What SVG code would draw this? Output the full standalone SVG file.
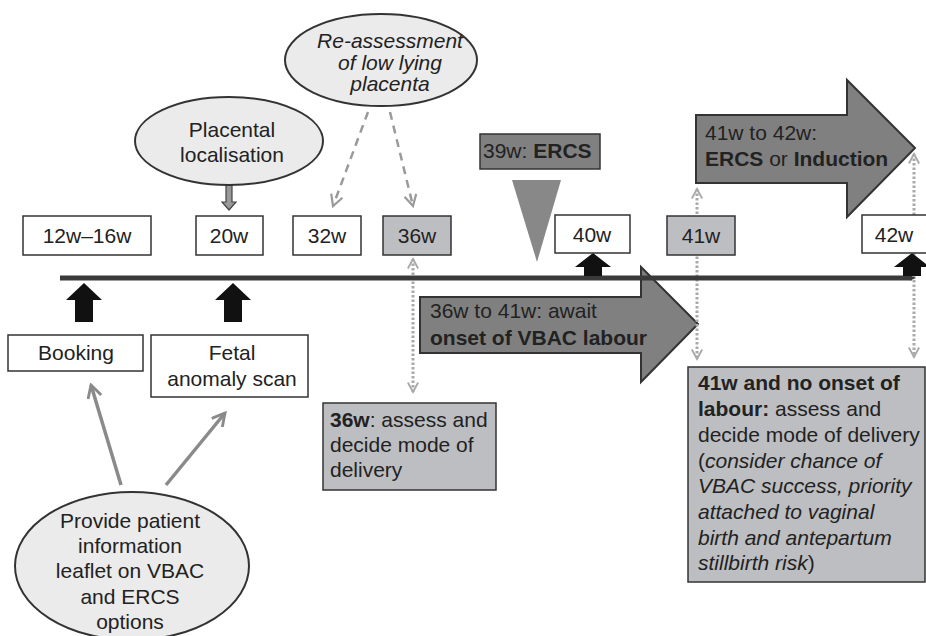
<svg xmlns="http://www.w3.org/2000/svg" width="926" height="636" viewBox="0 0 926 636">
<defs>
<style>
text{font-family:"Liberation Sans",Arial,sans-serif;font-size:21px;fill:#222}
.c{text-anchor:middle}
.b{font-weight:bold}
.i{font-style:italic}
.box{fill:#fff;stroke:#333;stroke-width:1.5}
.gbox{fill:#bdbec1;stroke:#333;stroke-width:1.5}
.ell{fill:#ebebeb;stroke:#333;stroke-width:2}
.big{fill:#808080;stroke:#333;stroke-width:2}
.blk{fill:#111}
.solid{fill:none;stroke:#8a8a8a;stroke-width:3.5}
.dash{fill:none;stroke:#9a9a9a;stroke-width:2.5;stroke-dasharray:8,6}
.dot{fill:none;stroke:#aaa;stroke-width:3;stroke-dasharray:2.5,2}
</style>
<marker id="ms" viewBox="0 0 14 14" refX="12" refY="7" markerWidth="16" markerHeight="16" markerUnits="userSpaceOnUse" orient="auto">
<path d="M1,1 L12,7 L1,13" fill="none" stroke="#8a8a8a" stroke-width="2.5"/>
</marker>
<marker id="md" viewBox="0 0 14 14" refX="12" refY="7" markerWidth="14" markerHeight="14" markerUnits="userSpaceOnUse" orient="auto">
<path d="M1,1 L12,7 L1,13" fill="none" stroke="#9a9a9a" stroke-width="2.2"/>
</marker>
<marker id="mt" viewBox="0 0 14 14" refX="12" refY="7" markerWidth="12" markerHeight="12" markerUnits="userSpaceOnUse" orient="auto-start-reverse">
<path d="M1,1 L12,7 L1,13" fill="none" stroke="#aaa" stroke-width="2.2"/>
</marker>
</defs>

<g id="big-arrows">
<path id="arrow-36-41" class="big" d="M420,297 L641,297 L641,267 L698,324 L641,382 L641,353 L420,353 Z"/>
<path id="arrow-41-42" class="big" d="M696,115 L847,115 L847,80 L915,148 L847,217 L847,183 L696,183 Z"/>
</g>

<g id="connectors">
<line class="solid" x1="121" y1="485" x2="91" y2="385" marker-end="url(#ms)"/>
<line class="solid" x1="166" y1="485" x2="225" y2="413" marker-end="url(#ms)"/>
<line class="dash" x1="368" y1="112" x2="333" y2="206" marker-end="url(#md)"/>
<line class="dash" x1="390" y1="112" x2="413" y2="206" marker-end="url(#md)"/>
<line class="dot" x1="413" y1="259" x2="413" y2="392" marker-start="url(#mt)" marker-end="url(#mt)"/>
<line class="dot" x1="697" y1="189" x2="697" y2="359" marker-start="url(#mt)" marker-end="url(#mt)"/>
<line class="dot" x1="914" y1="154" x2="914" y2="357" marker-start="url(#mt)" marker-end="url(#mt)"/>
<path d="M226,185 L232,185 L232,202 L236,202 L229,210 L222,202 L226,202 Z" fill="#999" stroke="#444" stroke-width="1.2"/>
</g>

<g id="timeline">
<line x1="60" y1="278" x2="912" y2="278" stroke="#3a3a3a" stroke-width="5"/>
<path d="M910,275.5 L916,278 L910,280.5 Z" fill="#3a3a3a"/>
</g>

<g id="up-arrows">
<path class="blk" d="M84,283 L102,300 L93,300 L93,322 L75,322 L75,300 L66,300 Z"/>
<path class="blk" d="M233,283 L251,300 L242,300 L242,322 L224,322 L224,300 L215,300 Z"/>
<path class="blk" d="M593,253 L611,267 L602,267 L602,276 L584,276 L584,267 L575,267 Z"/>
<path class="blk" d="M912,253 L930,267 L921,267 L921,276 L903,276 L903,267 L894,267 Z"/>
</g>

<g id="ellipse-placental">
<ellipse class="ell" cx="229" cy="141" rx="94" ry="44"/>
<text class="c" x="232" y="137">Placental</text>
<text class="c" x="232" y="162">localisation</text>
</g>

<g id="ellipse-reassess">
<ellipse class="ell" cx="381" cy="60" rx="96" ry="46"/>
<text class="c i" x="390" y="48">Re-assessment</text>
<text class="c i" x="390" y="70">of low lying</text>
<text class="c i" x="390" y="91">placenta</text>
</g>

<g id="ellipse-leaflet">
<ellipse class="ell" cx="132" cy="566" rx="117" ry="74"/>
<text class="c" x="130" y="528">Provide patient</text>
<text class="c" x="130" y="553">information</text>
<text class="c" x="130" y="578">leaflet on VBAC</text>
<text class="c" x="130" y="604">and ERCS</text>
<text class="c" x="130" y="629">options</text>
</g>

<g id="box-12-16">
<rect class="box" x="23" y="216" width="128" height="39"/>
<text class="c" x="87" y="243">12w–16w</text>
</g>
<g id="box-20">
<rect class="box" x="196" y="216" width="67" height="39"/>
<text class="c" x="229" y="243">20w</text>
</g>
<g id="box-32">
<rect class="box" x="293" y="216" width="68" height="39"/>
<text class="c" x="327" y="243">32w</text>
</g>
<g id="box-36">
<rect class="gbox" x="383" y="216" width="68" height="39"/>
<text class="c" x="417" y="243">36w</text>
</g>
<g id="box-39">
<rect x="480" y="134" width="120" height="35" fill="#808080" stroke="#333" stroke-width="1.5"/>
<text x="483" y="158">39w: <tspan class="b">ERCS</tspan></text>
<path d="M512,180 L561,180 L537,262 Z" fill="#888"/>
</g>
<g id="box-40">
<rect class="box" x="555" y="215" width="75" height="38"/>
<text class="c" x="592" y="242">40w</text>
</g>
<g id="box-41">
<rect class="gbox" x="667" y="216" width="68" height="39"/>
<text class="c" x="701" y="243">41w</text>
</g>
<g id="box-42">
<rect class="box" x="862" y="215" width="70" height="38"/>
<text class="c" x="894" y="242">42w</text>
</g>

<g id="box-booking">
<rect class="box" x="8" y="335" width="135" height="36"/>
<text class="c" x="76" y="360">Booking</text>
</g>
<g id="box-fetal">
<rect class="box" x="151" y="335" width="157" height="62"/>
<text class="c" x="232" y="360">Fetal</text>
<text class="c" x="232" y="386">anomaly scan</text>
</g>

<g id="label-36-41">
<text x="430" y="318">36w to 41w: await</text>
<text class="b" x="430" y="345">onset of VBAC labour</text>
</g>
<g id="label-41-42">
<text x="705" y="140">41w to 42w:</text>
<text x="705" y="166"><tspan class="b">ERCS</tspan> or <tspan class="b">Induction</tspan></text>
</g>

<g id="box-36-assess">
<rect class="gbox" x="323" y="403" width="173" height="87"/>
<text x="330" y="427"><tspan class="b">36w</tspan>: assess and</text>
<text x="330" y="452">decide mode of</text>
<text x="330" y="477">delivery</text>
</g>

<g id="box-41-assess">
<rect class="gbox" x="688" y="367" width="237" height="215"/>
<text x="698" y="390" class="b">41w and no onset of</text>
<text x="698" y="416"><tspan class="b">labour:</tspan> assess and</text>
<text x="698" y="442">decide mode of delivery</text>
<text x="698" y="468">(<tspan class="i">consider chance of</tspan></text>
<text x="698" y="493" class="i">VBAC success, priority</text>
<text x="698" y="519" class="i">attached to vaginal</text>
<text x="698" y="545" class="i">birth and antepartum</text>
<text x="698" y="570"><tspan class="i">stillbirth risk</tspan>)</text>
</g>
</svg>
